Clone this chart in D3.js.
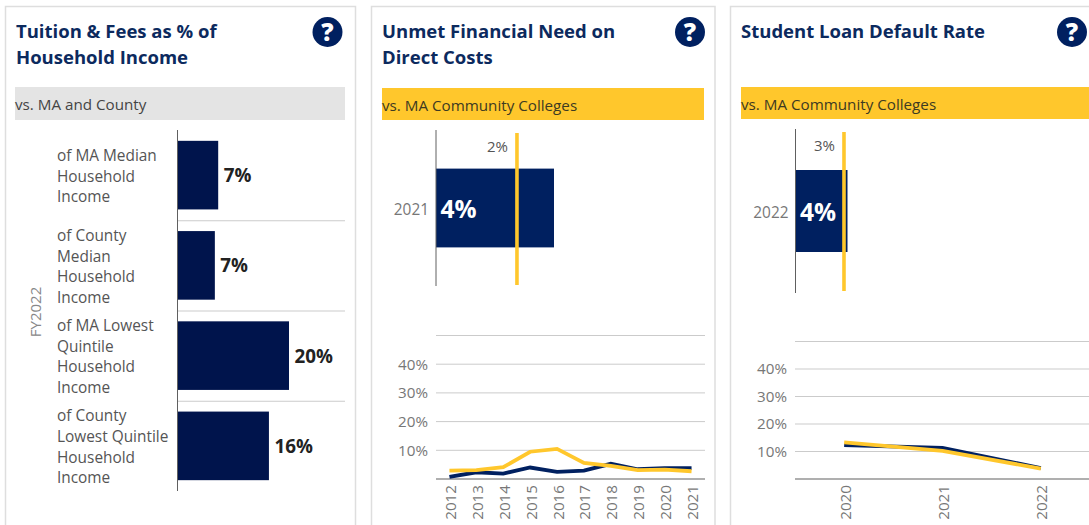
<!DOCTYPE html>
<html><head><meta charset="utf-8">
<script src="https://cdn.jsdelivr.net/npm/d3@7/dist/d3.min.js"></script>
<style>
html,body{margin:0;padding:0;background:#fff;overflow:hidden}
svg{display:block}
text{font-family:"Open Sans",sans-serif}
.axis path,.axis line{display:none}
</style></head><body>
<svg id="c" width="1089" height="525"></svg>
<script>
const tuitionCategories=[
 ["of MA Median","Household","Income"],
 ["of County","Median","Household","Income"],
 ["of MA Lowest","Quintile","Household","Income"],
 ["of County","Lowest Quintile","Household","Income"]];
const tuitionValues=[7.3,6.7,20,16.4];
const unmetYear=["2021"], unmetValue=[3.6], unmetBenchmark=[2.47];
const defaultYear=["2022"], defaultValue=[3.7], defaultBenchmark=[3.45];
const unmetYears=["2012","2013","2014","2015","2016","2017","2018","2019","2020","2021"];
const unmetSchool=[0.7,2.35,1.9,4,2.5,2.9,5.3,3.4,3.8,3.8];
const unmetState=[2.9,3.1,4.1,9.5,10.5,5.6,4.6,3.1,3.3,2.7];
const defaultYears=["2020","2021","2022"];
const defaultSchool=[12.3,11.3,4.0];
const defaultState=[13.3,10.2,3.8];
const yTicks=[10,20,30,40];
const gridTicks=[10,20,30,40,50];
const titles=[["Tuition & Fees as % of","Household Income"],["Unmet Financial Need on","Direct Costs"],["Student Loan Default Rate"]];
const bandLabels=["vs. MA and County","vs. MA Community Colleges","vs. MA Community Colleges"];
const axisTitle="FY2022";

const NAVY="#002060",DEEP="#00144C",YEL="#FFC72C",GRID="#cbcbcb",AX="#606060",TICK="#777";
const svg=d3.select("#c");
svg.append("rect").attr("width",1089).attr("height",525).attr("fill","#fff");

const cards=[{l:5.5,r:355.5,tx:16,qx:327.5,bx:15,bw:330,by:87,bh:33,bf:"#e4e4e4",bt:"#444"},
 {l:371.5,r:715,tx:382,qx:690,bx:382,bw:322,by:88,bh:32,bf:YEL,bt:"#3d3a22"},
 {l:730.5,r:1100,tx:741,qx:1072,bx:741,bw:348,by:87,bh:32,bf:YEL,bt:"#3d3a22"}];
cards.forEach((c,i)=>{
 svg.append("path").attr("d",`M${c.l},530V6.5H${c.r}V530`).attr("fill","none").attr("stroke","#dedede").attr("stroke-width",1.5);
 const t=svg.append("text").attr("fill","#0C2A5E").attr("font-weight",700).attr("font-size",18.5);
 titles[i].forEach((s,k)=>t.append("tspan").attr("x",c.tx).attr("y",37.5+k*26).text(s));
 svg.append("circle").attr("cx",c.qx).attr("cy",32).attr("r",15).attr("fill",NAVY);
 svg.append("text").attr("x",c.qx).attr("y",41).attr("text-anchor","middle").attr("fill","#fff").attr("font-weight",800).attr("font-size",24.5).text("?");
 svg.append("rect").attr("x",c.bx).attr("y",c.by).attr("width",c.bw).attr("height",c.bh).attr("fill",c.bf);
 svg.append("text").attr("x",c.bx).attr("y",c.by+23).attr("fill",c.bt).attr("font-size",15.2).text(bandLabels[i]);
});

// panel 1: horizontal bars
(function(){
 const x=d3.scaleLinear().domain([0,20]).range([177.5,289]);
 const y=d3.scaleBand().domain(d3.range(tuitionValues.length)).range([130,491]).paddingInner(0.24).paddingOuter(0.12);
 const step=y.step(), g=svg.append("g");
 d3.range(1,tuitionValues.length).forEach(i=>{
  const yy=y(i)-(step-y.bandwidth())/2+0.5;
  g.append("line").attr("x1",177).attr("x2",345).attr("y1",yy).attr("y2",yy).attr("stroke",GRID).attr("stroke-width",1);
 });
 g.selectAll("rect.b").data(tuitionValues).join("rect").attr("class","b")
  .attr("x",x(0)).attr("y",(d,i)=>y(i)).attr("width",d=>x(d)-x(0)).attr("height",y.bandwidth()).attr("fill",DEEP);
 g.append("line").attr("x1",177.5).attr("x2",177.5).attr("y1",130).attr("y2",491).attr("stroke",AX).attr("stroke-width",1);
 g.selectAll("text.v").data(tuitionValues).join("text").attr("class","v")
  .attr("x",d=>x(d)+5.5).attr("y",(d,i)=>y(i)+y.bandwidth()/2+7)
  .attr("font-size",18.8).attr("font-weight",700).attr("fill","#222").text(d=>Math.round(d)+"%");
 tuitionCategories.forEach((lines,i)=>{
  const cy=y(i)+y.bandwidth()/2, t=g.append("text").attr("fill","#555").attr("font-size",15.4);
  lines.forEach((s,k)=>t.append("tspan").attr("x",57).attr("y",cy+6.5+(k-(lines.length-1)/2)*20.7).text(s));
 });
 g.append("text").attr("transform","translate(41,312) rotate(-90)").attr("text-anchor","middle")
  .attr("fill","#888").attr("font-size",15).text(axisTitle);
})();

function bullet(o){
 const x=d3.scaleLinear().domain([0,o.value[0]]).range([o.x0,o.x1]);
 const y=d3.scaleBand().domain(o.year).range([o.y0,o.y1]).paddingInner(0).paddingOuter(o.pad);
 const g=svg.append("g");
 g.selectAll("rect").data(o.value).join("rect").attr("x",x(0)).attr("y",y(o.year[0])).attr("width",d=>x(d)-x(0)).attr("height",y.bandwidth()).attr("fill",NAVY);
 g.append("line").attr("x1",o.x0).attr("x2",o.x0).attr("y1",o.y0).attr("y2",o.y1).attr("stroke",AX);
 const ax=g.append("g").attr("class","axis").attr("transform",`translate(${o.x0},0)`).call(d3.axisLeft(y).tickSize(0).tickPadding(7));
 ax.selectAll("text").attr("font-size",15.4).attr("fill",TICK).style("font-family",'"Open Sans",sans-serif').attr("dy","0.45em");
 g.selectAll("line.ref").data(o.bench).join("line").attr("class","ref").attr("x1",d=>x(d)).attr("x2",d=>x(d))
  .attr("y1",o.ry0).attr("y2",o.ry1).attr("stroke",YEL).attr("stroke-width",3.6);
 g.append("text").attr("x",x(o.bench[0])-9).attr("y",o.ry0+19).attr("text-anchor","end").attr("font-size",15).attr("fill","#555").text(Math.round(o.bench[0])+"%");
 g.append("text").attr("x",o.x0+4.5).attr("y",y(o.year[0])+y.bandwidth()/2+9.5).attr("font-size",24.5).attr("font-weight",700).attr("fill","#fff").text(Math.round(o.value[0])+"%");
}
bullet({year:unmetYear,value:unmetValue,bench:unmetBenchmark,x0:436,x1:554,y0:130,y1:286,pad:0.49,ry0:133,ry1:285});
bullet({year:defaultYear,value:defaultValue,bench:defaultBenchmark,x0:795.5,x1:847.5,y0:129,y1:293,pad:0.5,ry0:132,ry1:291});

function lineChart(o){
 const x=d3.scaleBand().domain(o.years).range([o.x0,o.x1]);
 const y=d3.scaleLinear().domain([0,50]).range([479,o.top]);
 const g=svg.append("g");
 gridTicks.forEach(t=>g.append("line").attr("x1",o.x0).attr("x2",o.x1).attr("y1",y(t)).attr("y2",y(t)).attr("stroke",GRID));
 g.append("line").attr("x1",o.x0).attr("x2",o.x1).attr("y1",y(0)).attr("y2",y(0)).attr("stroke",AX).attr("stroke-width",1.2);
 const ay=g.append("g").attr("class","axis").attr("transform",`translate(${o.x0},0)`)
  .call(d3.axisLeft(y).tickValues(yTicks).tickFormat(d=>d+"%").tickSize(0).tickPadding(8));
 ay.selectAll("text").attr("font-size",15.2).attr("fill",TICK).style("font-family",'"Open Sans",sans-serif');
 const ax=g.append("g").attr("class","axis").attr("transform","translate(0,479)").call(d3.axisBottom(x).tickSize(0));
 ax.selectAll("text").attr("font-size",15.2).attr("fill",TICK).style("font-family",'"Open Sans",sans-serif')
  .attr("transform","rotate(-90)").attr("text-anchor","end").attr("x",-6).attr("y",1).attr("dy","0.36em");
 const ln=d3.line().x((d,i)=>x(o.years[i])+x.bandwidth()/2).y(d=>y(d));
 g.append("path").attr("d",ln(o.school)).attr("fill","none").attr("stroke",NAVY).attr("stroke-width",3.8);
 g.append("path").attr("d",ln(o.state)).attr("fill","none").attr("stroke",YEL).attr("stroke-width",3.8);
}
lineChart({years:unmetYears,school:unmetSchool,state:unmetState,x0:436,x1:705,top:335.5});
lineChart({years:defaultYears,school:defaultSchool,state:defaultState,x0:795,x1:1090,top:341.5});
</script></body></html>
